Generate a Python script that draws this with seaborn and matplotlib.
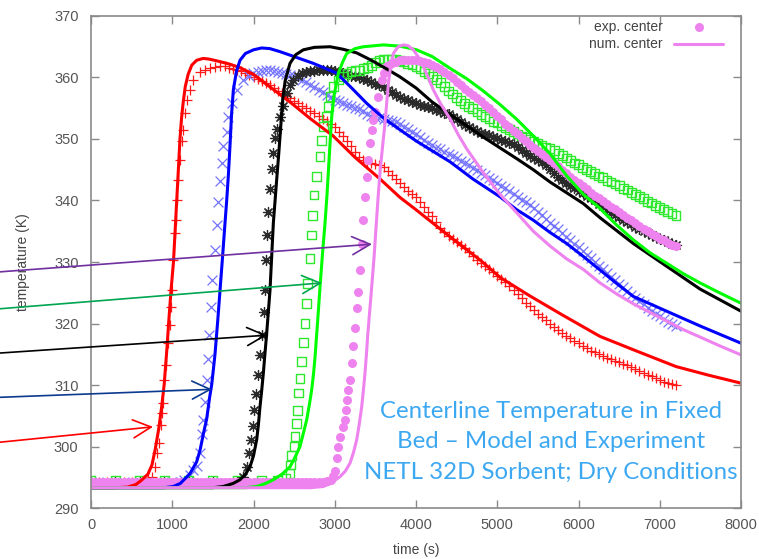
import numpy as np
import pandas as pd
import seaborn as sns
import matplotlib.pyplot as plt

# (time s, temperature K)
red_exp = [(0, 294.3), (100, 294.3), (200, 294.3), (300, 294.3), (400, 294.3), (500, 294.3), (600, 294.3),
           (650, 294.5), (700, 294.8), (747, 295.1), (788, 296.7), (808, 298.9), (841, 300.5), (858, 303.5),
           (870, 305.4), (882, 307.0), (902, 310.8), (923, 313.3), (952, 316.8), (972, 319.8), (981, 322.7),
           (993, 325.4), (1013, 330.3), (1034, 334.7), (1042, 336.8), (1054, 340.1), (1075, 343.3), (1095, 346.6),
           (1116, 349.6), (1136, 351.5), (1157, 354.2), (1178, 356.3), (1218, 358.0), (1259, 359.6), (1342, 360.9),
           (1400, 361.2), (1465, 361.5), (1530, 361.7), (1588, 361.8), (1650, 361.8), (1700, 361.6), (1750, 361.4),
           (1800, 361.2), (1850, 361.0), (1900, 360.7), (1950, 360.4), (2000, 360.1), (2050, 359.8), (2100, 359.4),
           (2150, 359.1), (2200, 358.7), (2250, 358.3), (2300, 357.8), (2350, 357.4), (2400, 357.0), (2450, 356.6),
           (2500, 356.2), (2550, 355.8), (2600, 355.4), (2650, 355.0), (2700, 354.6), (2750, 354.2), (2800, 353.7),
           (2850, 353.3), (2900, 352.9), (2950, 352.4), (3000, 351.9), (3050, 351.2), (3100, 350.5), (3150, 349.7),
           (3200, 348.8), (3250, 347.9), (3300, 347.0), (3350, 346.6), (3400, 346.3), (3450, 346.1), (3500, 346.0),
           (3550, 345.7), (3600, 345.4), (3650, 344.8), (3700, 344.2), (3750, 343.5), (3800, 342.8), (3850, 342.2),
           (3900, 341.6), (3950, 341.0), (4000, 340.5), (4050, 339.7), (4100, 339.0), (4150, 338.2), (4200, 337.5),
           (4250, 336.5), (4300, 335.6), (4350, 334.9), (4400, 334.3), (4450, 333.8), (4500, 333.3), (4550, 332.7),
           (4600, 332.2), (4650, 331.6), (4700, 331.0), (4750, 330.4), (4800, 329.9), (4850, 329.3), (4900, 328.8),
           (4950, 328.3), (5000, 327.8), (5050, 327.3), (5100, 326.8), (5150, 326.1), (5200, 325.5), (5250, 324.8),
           (5300, 324.1), (5350, 323.4), (5400, 322.8), (5450, 322.2), (5500, 321.6), (5550, 321.0), (5600, 320.5),
           (5650, 320.0), (5700, 319.5), (5750, 319.0), (5800, 318.5), (5850, 318.0), (5900, 317.6), (5950, 317.2),
           (6000, 316.8), (6050, 316.4), (6100, 316.0), (6150, 315.6), (6200, 315.3), (6250, 315.0), (6300, 314.7),
           (6350, 314.4), (6400, 314.2), (6450, 313.9), (6500, 313.7), (6550, 313.4), (6600, 313.2), (6650, 312.9),
           (6700, 312.6), (6750, 312.3), (6800, 312.0), (6850, 311.7), (6900, 311.4), (6950, 311.1), (7000, 310.8),
           (7050, 310.5), (7100, 310.3), (7150, 310.1), (7200, 310.0)]

blue_exp = [(0, 294.3), (200, 294.3), (400, 294.3), (600, 294.3), (800, 294.3), (1000, 294.3), (1100, 294.3),
            (1150, 294.6), (1218, 295.4), (1260, 296.2), (1300, 296.9), (1342, 298.9), (1362, 302.1), (1383, 304.3),
            (1403, 307.3), (1424, 310.8), (1444, 314.3), (1456, 318.1), (1473, 322.7), (1495, 327.0), (1526, 331.9),
            (1547, 336.0), (1567, 339.8), (1588, 343.1), (1608, 346.1), (1629, 348.8), (1670, 351.2), (1690, 353.6),
            (1731, 355.8), (1793, 358.0), (1875, 359.6), (1940, 360.3), (1998, 360.7), (2050, 360.9),
            (2100, 361.1), (2150, 361.2), (2200, 361.2), (2250, 361.1), (2300, 360.9), (2350, 360.8), (2400, 360.6),
            (2450, 360.4), (2500, 360.2), (2550, 359.9), (2600, 359.6), (2650, 359.2), (2700, 358.8), (2750, 358.4),
            (2800, 358.0), (2850, 357.6), (2900, 357.2), (2950, 356.8), (3000, 356.4), (3050, 356.1), (3100, 355.9),
            (3150, 355.6), (3200, 355.4), (3250, 355.1), (3300, 354.9), (3350, 354.5), (3400, 354.1), (3450, 353.8),
            (3500, 353.6), (3550, 353.4), (3600, 353.3), (3650, 353.1), (3700, 353.0), (3750, 352.8), (3800, 352.5),
            (3850, 352.0), (3900, 351.6), (3950, 351.2), (4000, 350.8), (4050, 350.3), (4100, 349.9), (4150, 349.4),
            (4200, 349.0), (4250, 348.6), (4300, 348.3), (4350, 347.9), (4400, 347.6), (4450, 347.2), (4500, 346.9),
            (4550, 346.5), (4600, 346.1), (4650, 345.7), (4700, 345.3), (4750, 344.9), (4800, 344.5), (4850, 344.1),
            (4900, 343.7), (4950, 343.3), (5000, 342.9), (5050, 342.4), (5100, 342.0), (5150, 341.5), (5200, 341.0),
            (5250, 340.5), (5300, 340.1), (5350, 339.7), (5400, 339.3), (5450, 338.7), (5500, 338.2), (5550, 337.6),
            (5600, 337.0), (5650, 336.4), (5700, 335.9), (5750, 335.3), (5800, 334.7), (5850, 334.1), (5900, 333.6),
            (5950, 333.0), (6000, 332.4), (6050, 331.8), (6100, 331.2), (6150, 330.6), (6200, 330.0), (6250, 329.4),
            (6300, 328.8), (6350, 328.2), (6400, 327.6), (6450, 327.0), (6500, 326.5), (6550, 325.9), (6600, 325.3),
            (6650, 324.7), (6700, 324.2), (6750, 323.6), (6800, 323.1), (6850, 322.6), (6900, 322.1), (6950, 321.6),
            (7000, 321.2), (7050, 320.7), (7100, 320.3), (7150, 319.9), (7200, 319.6)]

black_exp = [(0, 294.3), (300, 294.3), (600, 294.3), (900, 294.3), (1200, 294.3), (1500, 294.3), (1800, 294.3),
             (1875, 295.1), (1916, 296.7), (1949, 298.9), (1975, 301.1), (1995, 303.4), (2012, 305.9), (2030, 308.6),
             (2050, 311.6), (2075, 314.8), (2100, 318.2), (2125, 321.9), (2145, 325.5), (2154, 330.3), (2162, 334.4),
             (2182, 338.2), (2203, 341.8), (2224, 345.2), (2244, 347.7), (2265, 350.1), (2285, 351.7), (2326, 353.6),
             (2367, 355.3), (2408, 357.4), (2450, 358.7), (2490, 359.6), (2550, 360.2),
             (2600, 360.7), (2650, 360.9), (2700, 361.0), (2750, 361.1), (2800, 361.2), (2850, 361.2), (2900, 361.2),
             (2950, 361.2), (3000, 361.1), (3050, 360.9), (3100, 360.7), (3150, 360.5), (3200, 360.3), (3250, 360.2),
             (3300, 360.0), (3350, 359.8), (3400, 359.6), (3450, 359.3), (3500, 359.0), (3550, 358.7), (3600, 358.4),
             (3650, 358.0), (3700, 357.6), (3750, 357.2), (3800, 356.8), (3850, 356.5), (3900, 356.3), (3950, 356.0),
             (4000, 355.8), (4050, 355.6), (4100, 355.4), (4150, 355.2), (4200, 355.0), (4250, 354.7), (4300, 354.5),
             (4350, 354.2), (4400, 354.0), (4450, 353.6), (4500, 353.2), (4550, 352.7), (4600, 352.3), (4650, 351.9),
             (4700, 351.6), (4750, 351.3), (4800, 351.0), (4850, 350.8), (4900, 350.6), (4950, 350.4), (5000, 350.2),
             (5050, 349.9), (5100, 349.7), (5150, 349.4), (5200, 349.2), (5250, 348.7), (5300, 348.2), (5350, 347.7),
             (5400, 347.3), (5450, 346.9), (5500, 346.6), (5550, 346.2), (5600, 345.8), (5650, 345.1), (5700, 344.5),
             (5750, 343.9), (5800, 343.3), (5850, 342.8), (5900, 342.4), (5950, 342.0), (6000, 341.6), (6050, 341.2),
             (6100, 340.8), (6150, 340.4), (6200, 340.0), (6250, 339.5), (6300, 339.1), (6350, 338.6), (6400, 338.2),
             (6450, 337.7), (6500, 337.3), (6550, 336.9), (6600, 336.5), (6650, 336.1), (6700, 335.7), (6750, 335.3),
             (6800, 335.0), (6850, 334.7), (6900, 334.4), (6950, 334.1), (7000, 333.8), (7050, 333.5), (7100, 333.3),
             (7150, 333.0), (7200, 332.8)]

green_exp = [(0, 294.5), (300, 294.5), (600, 294.5), (900, 294.5), (1200, 294.5), (1500, 294.5), (1800, 294.5),
             (2100, 294.5), (2300, 294.5), (2400, 294.8), (2449, 295.6), (2460, 297.0), (2470, 298.6), (2499, 300.0),
             (2511, 301.6), (2531, 303.8), (2539, 305.9), (2552, 308.7), (2572, 311.1), (2593, 313.8), (2613, 316.9),
             (2634, 320.0), (2654, 323.3), (2667, 326.5), (2695, 330.6), (2716, 334.4), (2729, 337.6), (2745, 340.9),
             (2777, 343.9), (2819, 347.1), (2839, 349.8), (2859, 352.0), (2900, 353.6), (2921, 355.3), (2942, 356.9),
             (2982, 358.5), (3050, 359.6), (3105, 360.1), (3150, 360.6), (3200, 361.0), (3250, 361.1), (3300, 361.2),
             (3350, 361.4), (3400, 361.6), (3450, 362.0), (3500, 362.5), (3550, 362.8), (3600, 363.0), (3650, 363.0),
             (3700, 363.0), (3750, 362.9), (3800, 362.8), (3850, 362.6), (3900, 362.3), (3950, 362.1), (4000, 361.8),
             (4050, 361.4), (4100, 361.0), (4150, 360.6), (4200, 360.2), (4250, 359.7), (4300, 359.2), (4350, 358.5),
             (4400, 357.8), (4450, 357.3), (4500, 356.8), (4550, 356.3), (4600, 355.8), (4650, 355.3), (4700, 354.9),
             (4750, 354.4), (4800, 354.0), (4850, 353.6), (4900, 353.3), (4950, 352.9), (5000, 352.6), (5050, 352.2),
             (5100, 351.9), (5150, 351.5), (5200, 351.2), (5250, 350.8), (5300, 350.5), (5350, 350.2), (5400, 349.9),
             (5450, 349.6), (5500, 349.3), (5550, 349.0), (5600, 348.7), (5650, 348.4), (5700, 348.1), (5750, 347.7),
             (5800, 347.3), (5850, 346.9), (5900, 346.5), (5950, 346.1), (6000, 345.8), (6050, 345.4), (6100, 345.1),
             (6150, 344.7), (6200, 344.4), (6250, 344.0), (6300, 343.7), (6350, 343.3), (6400, 343.0), (6450, 342.7),
             (6500, 342.4), (6550, 342.0), (6600, 341.7), (6650, 341.3), (6700, 341.0), (6750, 340.6), (6800, 340.3),
             (6850, 339.9), (6900, 339.6), (6950, 339.2), (7000, 338.9), (7050, 338.5), (7100, 338.2), (7150, 337.9),
             (7200, 337.6)]

violet_exp = [(0, 294.3), (50, 294.3), (100, 294.3), (150, 294.3), (200, 294.3), (250, 294.3), (300, 294.3),
              (350, 294.3), (400, 294.3), (450, 294.3), (500, 294.3), (550, 294.3), (600, 294.3), (650, 294.3),
              (700, 294.3), (750, 294.3), (800, 294.3), (850, 294.3), (900, 294.3), (950, 294.3), (1000, 294.3),
              (1050, 294.3), (1100, 294.3), (1150, 294.3), (1200, 294.3), (1250, 294.3), (1300, 294.3), (1350, 294.3),
              (1400, 294.3), (1450, 294.3), (1500, 294.3), (1550, 294.3), (1600, 294.3), (1650, 294.3), (1700, 294.3),
              (1750, 294.3), (1800, 294.3), (1850, 294.3), (1900, 294.3), (1950, 294.3), (2000, 294.3), (2050, 294.3),
              (2100, 294.3), (2150, 294.3), (2200, 294.3), (2250, 294.3), (2300, 294.3), (2350, 294.3), (2400, 294.3),
              (2450, 294.3), (2500, 294.3), (2550, 294.3), (2600, 294.3), (2650, 294.3), (2700, 294.3), (2750, 294.3),
              (2800, 294.3), (2850, 294.3), (2900, 294.4), (2950, 294.6), (2980, 295.2), (3000, 296.0), (3024, 298.1),
              (3044, 300.0), (3065, 301.6), (3105, 303.2), (3126, 304.3), (3139, 305.9), (3147, 307.5), (3167, 309.2),
              (3188, 310.8), (3208, 313.5), (3229, 316.3), (3249, 319.2), (3270, 322.5), (3290, 325.2), (3311, 328.7),
              (3332, 333.0), (3352, 336.8), (3372, 340.6), (3393, 343.9), (3413, 346.6), (3434, 349.3), (3455, 351.5),
              (3475, 353.1), (3496, 354.4), (3536, 356.9), (3578, 359.6), (3610, 360.8), (3639, 361.8), (3670, 362.1),
              (3700, 362.4), (3750, 362.6), (3800, 362.8), (3850, 362.9), (3900, 362.9), (3950, 362.9), (4000, 362.8),
              (4050, 362.7), (4100, 362.5), (4150, 362.3), (4200, 362.0), (4250, 361.7), (4300, 361.3), (4350, 360.9),
              (4400, 360.4), (4450, 359.9), (4500, 359.3), (4550, 358.8), (4600, 358.2), (4650, 357.7), (4700, 357.1),
              (4750, 356.6), (4800, 356.1), (4850, 355.6), (4900, 355.0), (4950, 354.4), (5000, 353.8), (5050, 353.2),
              (5100, 352.5), (5150, 351.9), (5200, 351.3), (5250, 350.8), (5300, 350.2), (5350, 349.7), (5400, 349.1),
              (5450, 348.6), (5500, 348.1), (5550, 347.6), (5600, 347.1), (5650, 346.6), (5700, 346.1), (5750, 345.6),
              (5800, 345.0), (5850, 344.5), (5900, 343.9), (5950, 343.4), (6000, 342.8), (6050, 342.3), (6100, 341.8),
              (6150, 341.3), (6200, 340.8), (6250, 340.4), (6300, 339.9), (6350, 339.5), (6400, 339.0), (6450, 338.6),
              (6500, 338.1), (6550, 337.7), (6600, 337.2), (6650, 336.8), (6700, 336.3), (6750, 335.9), (6800, 335.4),
              (6850, 335.0), (6900, 334.6), (6950, 334.2), (7000, 333.8), (7050, 333.5), (7100, 333.1), (7150, 332.8),
              (7200, 332.6)]

red_num = [(0, 293.3), (300, 293.3), (450, 293.4), (550, 293.8), (620, 294.5), (700, 295.5), (750, 297.0),
           (790, 299.5), (835, 303.0), (870, 306.5), (900, 310.0), (935, 316.0), (955, 320.0), (985, 325.4),
           (1015, 330.0), (1035, 335.0), (1055, 340.0), (1075, 345.0), (1095, 350.0), (1115, 353.5), (1135, 356.0),
           (1160, 358.5), (1195, 360.5), (1240, 362.0), (1300, 362.8), (1380, 363.1), (1450, 363.0), (1550, 362.7),
           (1700, 362.2), (1835, 361.6), (2000, 360.5), (2200, 358.5), (2450, 356.0), (2700, 353.3), (2980, 350.5),
           (3250, 347.0), (3557, 343.5), (3803, 340.5), (4000, 338.5), (4400, 334.3), (4800, 330.2), (5034, 327.5),
           (5400, 324.5), (5800, 321.4), (6265, 317.9), (6700, 315.6), (7200, 313.0), (7600, 311.6), (8000, 310.3)]

blue_num = [(0, 293.3), (900, 293.3), (1013, 293.5), (1100, 294.0), (1218, 295.6), (1300, 297.5), (1342, 299.4),
            (1390, 302.5), (1424, 304.5), (1460, 308.0), (1485, 310.0), (1510, 313.0), (1526, 315.0), (1560, 320.5),
            (1588, 325.4), (1620, 331.0), (1649, 336.3), (1670, 340.0), (1690, 344.0), (1711, 349.0), (1730, 354.0),
            (1752, 358.0), (1790, 361.0), (1834, 362.8), (1900, 363.9), (2000, 364.5), (2100, 364.8), (2200, 364.7),
            (2326, 364.2), (2500, 363.4), (2736, 362.3), (3024, 360.7), (3200, 358.4), (3393, 355.8), (3600, 353.4),
            (3803, 351.5), (4000, 349.7), (4418, 346.3), (4700, 343.5), (5034, 340.6), (5240, 338.5), (5444, 336.8),
            (5650, 334.8), (5855, 333.0), (6059, 330.9), (6265, 328.7), (6470, 326.5), (6675, 324.4), (7085, 322.0),
            (7496, 319.6), (8000, 316.8)]

black_num = [(0, 293.3), (1500, 293.3), (1628, 293.5), (1750, 294.0), (1834, 294.6), (1900, 295.5), (1957, 296.7),
             (2000, 298.5), (2039, 301.1), (2060, 303.5), (2080, 306.5), (2100, 309.0), (2121, 311.9), (2140, 315.0),
             (2160, 318.0), (2203, 325.4), (2244, 336.3), (2280, 342.5), (2310, 347.5), (2335, 352.0), (2360, 356.5),
             (2390, 359.5), (2449, 362.3), (2520, 363.7), (2613, 364.5), (2750, 364.9), (2942, 365.0), (3100, 364.6),
             (3270, 364.0), (3450, 362.8), (3650, 361.3), (3803, 360.1), (4000, 358.3), (4200, 356.0), (4418, 354.0),
             (4829, 350.3), (5240, 346.8), (5444, 345.0), (5650, 343.0), (6059, 339.5), (6265, 337.2), (6675, 333.0),
             (7085, 329.3), (7496, 325.6), (8000, 322.0)]

green_num = [(0, 293.3), (1900, 293.3), (2039, 293.5), (2150, 294.0), (2244, 294.6), (2350, 295.5), (2449, 296.7),
             (2520, 298.5), (2572, 300.0), (2620, 302.5), (2654, 304.3), (2690, 307.0), (2716, 309.2), (2740, 312.0),
             (2757, 314.5), (2790, 320.5), (2819, 326.0), (2850, 331.5), (2880, 336.3), (2905, 341.0), (2925, 345.5),
             (2945, 350.0), (2965, 354.0), (2990, 357.0), (3044, 360.7), (3100, 362.6), (3147, 363.9), (3250, 364.7),
             (3352, 365.0), (3598, 365.3), (3800, 365.1), (4008, 364.5), (4200, 363.4), (4418, 361.5), (4624, 359.8),
             (4829, 357.8), (5034, 355.6), (5240, 353.2), (5444, 350.5), (5650, 347.6), (5855, 344.0), (6059, 341.0),
             (6265, 338.7), (6470, 336.0), (6675, 333.6), (6880, 331.5), (7085, 329.8), (7290, 328.1), (7496, 326.6),
             (7750, 324.9), (8000, 323.3)]

violet_num = [(0, 293.3), (2700, 293.3), (2859, 293.5), (2950, 294.0), (3065, 295.1), (3130, 296.0), (3188, 297.3),
              (3230, 299.0), (3270, 301.1), (3300, 303.5), (3332, 306.5), (3355, 309.5), (3372, 311.9), (3390, 315.0),
              (3405, 318.0), (3430, 322.0), (3455, 326.0), (3485, 331.0), (3510, 336.0), (3536, 341.0), (3560, 345.0),
              (3590, 349.0), (3618, 352.5), (3640, 356.0), (3662, 359.3), (3690, 362.0), (3721, 363.9), (3780, 365.0),
              (3844, 365.3), (3900, 365.2), (3967, 364.5), (4030, 363.3), (4090, 361.8), (4150, 360.0), (4213, 358.0),
              (4300, 355.8), (4418, 353.3), (4520, 350.7), (4624, 348.4), (4829, 344.5), (5034, 341.0), (5240, 338.0),
              (5444, 335.0), (5650, 332.6), (5855, 330.5), (6059, 328.8), (6265, 326.6), (6470, 324.8), (6675, 323.2),
              (6880, 321.8), (7085, 320.4), (7290, 319.0), (7496, 317.8), (7750, 316.3), (8000, 314.9)]

# arrows coming in from the slide on the left: tail and tip (time s, temperature K)
arrow_tails = [(-1120, 328.4), (-1120, 322.4), (-1120, 315.2), (-1120, 308.0), (-1120, 300.7)]
arrow_tips = [(3459, 332.9), (2843, 326.6), (2166, 318.1), (1489, 309.3), (763, 303.2)]
arrow_colors = ['#7030a0', '#00a550', '#000000', '#0b3a8f', '#ff0000']

title = 'Centerline Temperature in Fixed\nBed \u2013 Model and Experiment\nNETL 32D Sorbent; Dry Conditions'

sns.set_theme(style='white')
plt.rcParams['font.family'] = ['Liberation Sans', 'DejaVu Sans']

fig = plt.figure(figsize=(7.59, 5.59), dpi=100)
ax = fig.add_axes([0.1199, 0.0912, 0.8564, 0.8802])


def to_df(pts):
    return pd.DataFrame(pts, columns=['time', 'temp'])


exp_styles = [
    (red_exp, '+', '#ff1a1a', 58, None),
    (blue_exp, 'x', '#7373ff', 50, None),
    (black_exp, (8, 2, 0), '#2a2a2a', 52, None),
    (green_exp, 's', '#2ee82e', 40, None),
    (violet_exp, 'o', '#ee82ee', 42, 'exp. center'),
]
for pts, mk, col, size, lab in exp_styles:
    d = to_df(pts)
    if mk == 's':
        sns.scatterplot(data=d, x='time', y='temp', marker=mk, s=size, color=col, ax=ax, legend=False)
        sq = ax.collections[-1]
        sq.set_facecolor('none')
        sq.set_edgecolor(col)
        sq.set_linewidth(1.0)
    elif mk == 'o':
        sns.scatterplot(data=d, x='time', y='temp', marker=mk, s=size, color=col, linewidth=0,
                        ax=ax, label=lab, legend=False)
    else:
        sns.scatterplot(data=d, x='time', y='temp', marker=mk, s=size, color=col, linewidth=0.9,
                        ax=ax, legend=False)

num_styles = [
    (red_num, '#ff0000', None),
    (blue_num, '#0000ff', None),
    (black_num, '#000000', None),
    (green_num, '#00ff00', None),
    (violet_num, '#ee82ee', 'num. center'),
]
for pts, col, lab in num_styles:
    d = to_df(pts)
    sns.lineplot(data=d, x='time', y='temp', color=col, linewidth=2.2, sort=False,
                 estimator=None, ax=ax, label=lab, legend=False)

for tail, tip, col in zip(arrow_tails, arrow_tips, arrow_colors):
    ax.annotate('', xy=tip, xytext=tail, xycoords='data', textcoords='data',
                annotation_clip=False,
                arrowprops=dict(arrowstyle='->,head_length=1.3,head_width=0.65', color=col,
                                lw=1.2, shrinkA=0, shrinkB=0, mutation_scale=10))

ax.set_xlim(0, 8000)
ax.set_ylim(290, 370)
ax.set_xticks(range(0, 8001, 1000))
ax.set_yticks(range(290, 371, 10))

for s in ax.spines.values():
    s.set_visible(True)
    s.set_color('#8a8a8a')
    s.set_linewidth(1.2)
ax.tick_params(direction='in', length=6, width=1.0, color='#8a8a8a',
               bottom=True, left=True, top=True, right=True,
               labelsize=10.5, labelcolor='#555555')
ax.tick_params(axis='x', pad=7)
ax.tick_params(axis='y', pad=9)

ax.set_xlabel('time (s)', fontsize=10, color='#444444')
ax.set_ylabel('temperature (K)', fontsize=10, color='#444444')
ax.xaxis.set_label_coords(0.5, -0.071)
ax.yaxis.set_label_coords(-0.094, 0.5)

leg = ax.legend(loc='upper right', bbox_to_anchor=((723 - 91) / 650, (508 - 20) / 492),
                frameon=False, markerfirst=False, fontsize=10, handlelength=3.5,
                handletextpad=0.85, labelspacing=0.25, borderpad=0, borderaxespad=0)
for t in leg.get_texts():
    t.set_color('#444444')

fig.text(551 / 759, 1 - 442 / 559, title, ha='center', va='center', fontsize=17.3,
         color='#3da8f2', family=['Lato', 'DejaVu Sans'], linespacing=1.53)

fig.savefig('out.png', dpi=100)
